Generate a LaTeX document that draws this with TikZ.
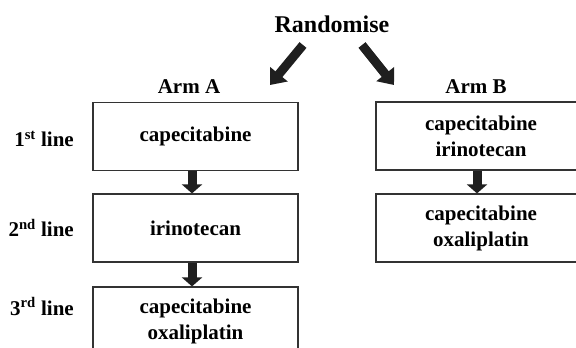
\documentclass[tikz,border=0pt]{standalone}
\usepackage{fontspec}
\setmainfont{Liberation Serif}
\usetikzlibrary{arrows.meta}
\begin{document}
\begin{tikzpicture}[x=1pt,y=-1pt,
  txt/.style={font=\fontsize{21}{26}\selectfont\bfseries, inner sep=0pt},
  box/.style={txt, draw=black!80, line width=1.2pt, minimum height=68pt, align=center},
  boxa/.style={box, minimum width=205pt},
  boxb/.style={box, minimum width=210pt},
  blk/.style={line width=9pt, draw=black!88, -{Triangle[length=9pt,width=20pt]}},
  diag/.style={line width=9pt, draw=black!88, -{Triangle[length=14pt,width=22pt]}}]
\useasboundingbox (0,0) rectangle (576,348);
\clip (0,0) rectangle (576,348);
% title and arm labels
\node[txt, font=\fontsize{24}{28}\selectfont\bfseries, anchor=base] (rand) at (332,32) {Randomise};
\node[txt, anchor=base] (armA) at (189,93) {Arm A};
\node[txt, anchor=base] (armB) at (476,93) {Arm B};
% boxes
\node[boxa] (a1) at (195.5,136.5) {capecitabine};
\node[boxa] (a2) at (195.5,228) {irinotecan};
\node[boxa] (a3) at (195.5,321) {capecitabine\\oxaliplatin};
\node[boxb] (b1) at (481,136) {capecitabine\\irinotecan};
\node[boxb] (b2) at (481,228) {capecitabine\\oxaliplatin};
% row labels
\node[txt, anchor=base east] (l1) at (74,146.7) {1\textsuperscript{st} line};
\node[txt, anchor=base east] (l2) at (74,236.7) {2\textsuperscript{nd} line};
\node[txt, anchor=base east] (l3) at (74,315) {3\textsuperscript{rd} line};
% diagonal arrows
\coordinate (dl1) at (303,45);
\coordinate (dl2) at (270,85);
\coordinate (dr1) at (362,45);
\coordinate (dr2) at (394,85);
\draw[diag] (dl1) -- (dl2);
\draw[diag] (dr1) -- (dr2);
% down arrows
\draw[blk] ([xshift=-3.5pt]a1.south) -- ([xshift=-3.5pt]a2.north);
\draw[blk] ([xshift=-3.5pt]a2.south) -- ([xshift=-3.5pt]a3.north);
\draw[blk] ([xshift=-4pt]b1.south) -- ([xshift=-4pt]b2.north);
\end{tikzpicture}
\end{document}
